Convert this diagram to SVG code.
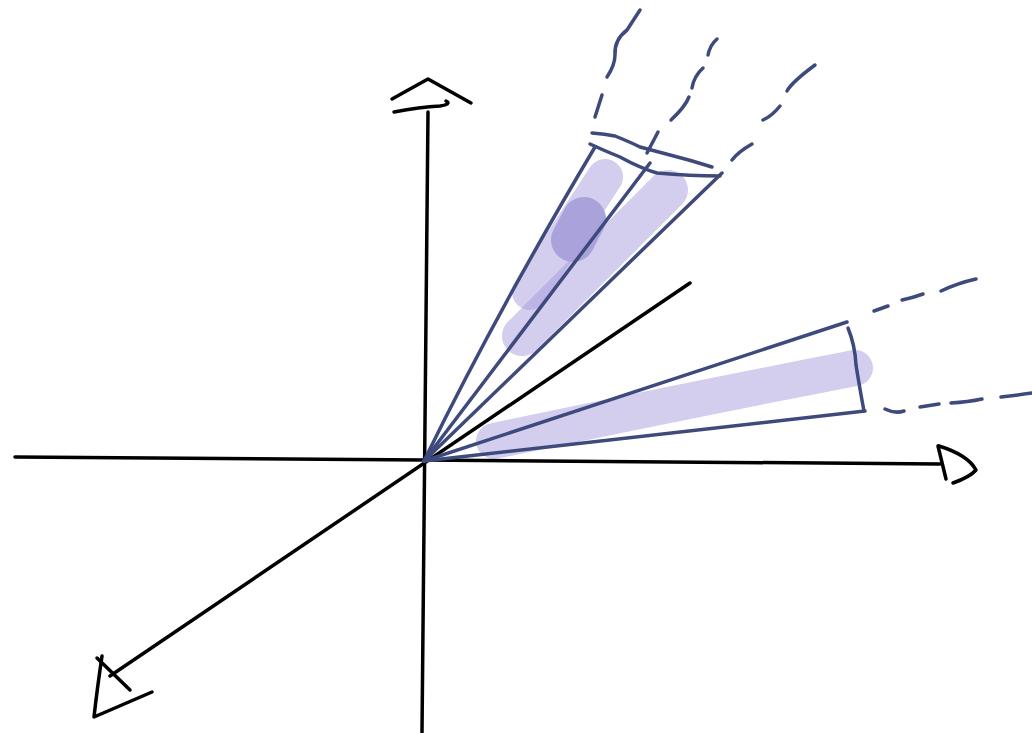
<svg xmlns="http://www.w3.org/2000/svg" width="1032" height="733" viewBox="0 0 1032 733">
<style>
.ax{fill:none;stroke:#000;stroke-width:3.5;stroke-linecap:round;stroke-linejoin:round}
.bl{fill:none;stroke:#3e4a7c;stroke-width:3.5;stroke-linecap:round;stroke-linejoin:round}
.hl{fill:none;stroke:#a79bdd;stroke-opacity:0.5;stroke-linecap:round}
</style>
<rect width="1032" height="733" fill="#fff"/>
<g id="highlights">
<path class="hl" d="M605,177 L530,292" stroke-width="36"/>
<path class="hl" d="M668,190 L522,336" stroke-width="40"/>
<path d="M584,219 L573,240" fill="none" stroke="#aaa3db" stroke-width="44" stroke-linecap="round"/>
<path class="hl" d="M494,441 Q680,402 855,368" stroke-width="36"/>
</g>
<g id="axes">
<path class="ax" d="M15,457 L424,460 L940,464"/>
<path class="ax" d="M428,112 L422,732"/>
<path class="ax" d="M690,283 L110,676"/>
<path class="ax" d="M392,99 L428,79 L471,103"/>
<path class="ax" d="M394,112 Q420,107 440,106 Q452,104 446,101"/>
<path class="ax" d="M938,446 L946,479"/>
<path class="ax" d="M939,446 Q968,455 976,470 Q970,477 953,483"/>
<path class="ax" d="M102,656 Q97,690 94,717 L152,692"/>
<path class="ax" d="M97,658 L130,690"/>
</g>
<g id="top-cone">
<path class="bl" d="M595,147 Q495,315 424,461"/>
<path class="bl" d="M650,163 L424,461"/>
<path class="bl" d="M722,173 L424,461"/>
<path class="bl" d="M592,133 Q605,134 615,136 Q630,142 640,147 Q655,151 670,155 Q690,160 712,167"/>
<path class="bl" d="M590,144 Q605,151 620,157 Q640,168 657,173 Q690,176 720,176"/>
<path class="bl" d="M595,117 L602,95"/>
<path class="bl" d="M607,77 Q615,65 615,55 Q614,40 627,30 L640,10"/>
<path class="bl" d="M647,153 L658,132"/>
<path class="bl" d="M671,120 Q685,107 689,97"/>
<path class="bl" d="M692,88 Q694,76 703,68"/>
<path class="bl" d="M708,55 Q710,45 717,39"/>
<path class="bl" d="M732,160 Q738,152 752,144"/>
<path class="bl" d="M763,120 Q772,116 780,106"/>
<path class="bl" d="M787,91 Q792,82 815,65"/>
</g>
<g id="right-cone">
<path class="bl" d="M424,461 L847,322"/>
<path class="bl" d="M424,461 L865,411"/>
<path class="bl" d="M848,328 Q855,345 856,365 Q860,390 864,411"/>
<path class="bl" d="M874,311 L888,306"/>
<path class="bl" d="M902,300 Q912,298 923,294"/>
<path class="bl" d="M941,291 Q958,283 976,279"/>
<path class="bl" d="M885,409 Q895,414 904,411"/>
<path class="bl" d="M920,407 L939,404"/>
<path class="bl" d="M951,403 Q968,402 982,399"/>
<path class="bl" d="M1001,397 Q1018,395 1032,393"/>
</g>
</svg>
